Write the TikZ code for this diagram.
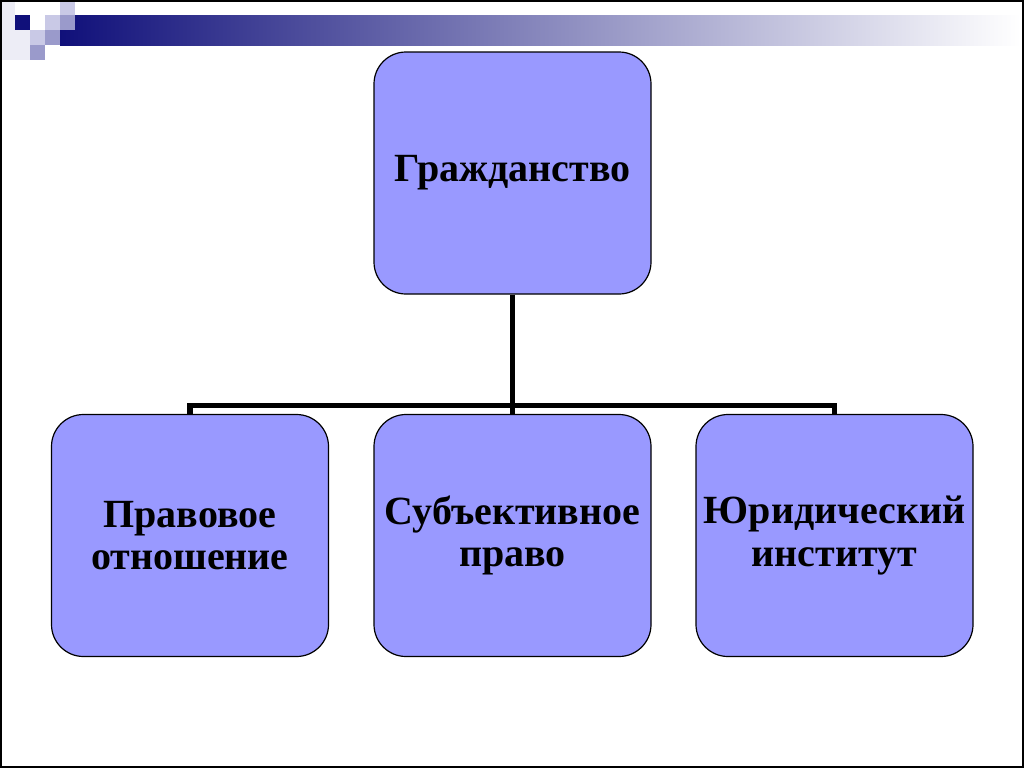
\documentclass[tikz,border=0pt]{standalone}
\usepackage{fontspec}
\setmainfont{Liberation Serif}
\definecolor{boxfill}{HTML}{9999FF}
\definecolor{navy}{HTML}{10107A}
\definecolor{lightlav}{HTML}{C9C9E6}
\definecolor{midlav}{HTML}{9A9ACB}
\definecolor{palelav}{HTML}{EDEDF6}
\tikzset{
  box/.style={draw=black, line width=0.9pt, fill=boxfill, rounded corners=24pt,
    minimum width=207.75pt, minimum height=181.5pt, align=center,
    inner xsep=1pt, font=\fontsize{30}{32}\selectfont\bfseries},
  bus/.style={line width=4pt, line join=miter}
}
\begin{document}
\begin{tikzpicture}[x=0.75pt,y=-0.75pt]
  \useasboundingbox (0,0) rectangle (1024,768);
  \fill[white] (0,0) rectangle (1024,768);
  % corner squares and title bar
  \fill[palelav] (2,2) rectangle (15,60);
  \fill[palelav] (15,30) rectangle (30,60);
  \shade[left color=navy, right color=white] (60,15) rectangle (1020,45);
  \fill[navy] (15,15) rectangle (30,30);
  \fill[lightlav] (30,30) rectangle (45,45);
  \fill[midlav] (30,45) rectangle (45,60);
  \fill[lightlav] (45,15) rectangle (60,30);
  \fill[midlav] (45,30) rectangle (60,45);
  \fill[lightlav] (60,0) rectangle (75,15);
  \fill[midlav] (60,15) rectangle (75,30);
  \draw[line width=1.8pt] (1,1) rectangle (1023,767);
  % boxes
  \node[box] (citizen) at (512.5,173) {Гражданство};
  \node[box] (relation) at (190,535.5) {Правовое\\отношение};
  \node[box] (right) at (512.5,535.5) {Субъективное\\право};
  \node[box] (institute) at (834.5,535.5) {Юридический\\институт};
  % connectors
  \draw[bus] (citizen.south) -- ++(0,111) coordinate (fork);
  \draw[bus] (fork) -| (relation.north);
  \draw[bus] (fork) -| (institute.north);
  \draw[bus] (fork) -- (right.north);
\end{tikzpicture}
\end{document}
